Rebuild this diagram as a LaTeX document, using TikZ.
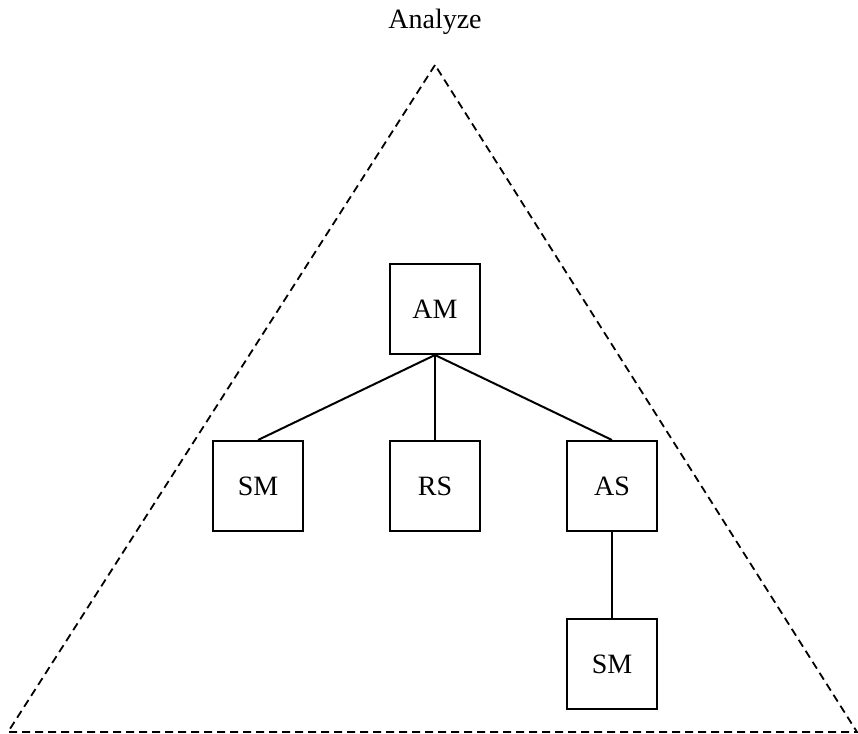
\documentclass[tikz,border=0pt]{standalone}
\usepackage{fontspec}
\setmainfont{Liberation Serif}
\usetikzlibrary{positioning}
\tikzset{
  modbox/.style={rectangle,draw,line width=1pt,minimum size=45pt,inner sep=0pt,font=\fontsize{14}{16}\selectfont},
  titletext/.style={font=\fontsize{14}{16}\selectfont},
  link/.style={line width=1pt},
  region/.style={line width=0.9pt,dash pattern=on 4pt off 2.5pt}
}

\begin{document}
\begin{tikzpicture}[x=0.5pt,y=-0.5pt,node distance=42.5pt and 42.5pt]
  \useasboundingbox (0,0) rectangle (858,734);
  % dashed region
  \coordinate (apex) at (435,65);
  \coordinate (left) at (8,732);
  \coordinate (right) at (857,732);
  \draw[region] (apex) -- (left) -- (right) -- cycle;
  \node[titletext] (title) at (435,22) {Analyze};

  \node[modbox] (am) at (435,309) {AM};
  \node[modbox, below=of am] (rs) {RS};
  \node[modbox, left=of rs] (sm) {SM};
  \node[modbox, right=of rs] (as) {AS};
  \node[modbox, below=43pt of as] (smtwo) {SM};

  \draw[link] (am.south) -- (sm.north);
  \draw[link] (am.south) -- (rs.north);
  \draw[link] (am.south) -- (as.north);
  \draw[link] (as.south) -- (smtwo.north);
\end{tikzpicture}
\end{document}
